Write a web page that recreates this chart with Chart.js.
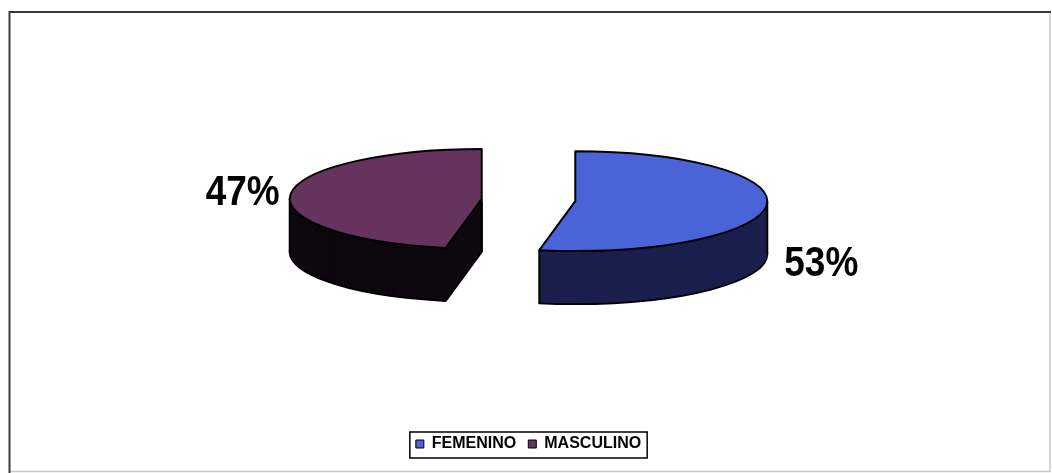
<!DOCTYPE html>
<html>
<head>
<meta charset="utf-8">
<script src="https://cdn.jsdelivr.net/npm/chart.js@4.4.1/dist/chart.umd.min.js"></script>
<style>
  html, body { margin: 0; padding: 0; background: #fff; }
  canvas { display: block; }
</style>
</head>
<body>
<canvas id="pieChart" width="1052" height="473"></canvas>
<script>
const categories = ['FEMENINO', 'MASCULINO'];
const percentages = [53, 47];

const faceColors = ['#4a64d8', '#66325e'];
const wallColors = ['#1a1f4e', '#0d080e'];

const FONT = '"Liberation Sans", Arial, sans-serif';
const TILT = 0.26;     // vertical squash of the pie top
const DEPTH = 53;      // wall thickness in px
const EXPLODE = 47;    // how far each slice is pulled out
const LIFT = 12;

// ellipse geometry of one slice, taken from the arc element chart.js laid out
function sliceGeom(arc) {
  const mid = (arc.startAngle + arc.endAngle) / 2;
  const rx = arc.outerRadius;
  return {
    cx: arc.x + Math.cos(mid) * EXPLODE,
    cy: arc.y - LIFT + Math.sin(mid) * EXPLODE * TILT,
    rx: rx, ry: rx * TILT,
    start: arc.startAngle, end: arc.endAngle, mid: mid
  };
}

function slicePath(ctx, g, dy) {
  ctx.beginPath();
  ctx.moveTo(g.cx, g.cy + dy);
  ctx.ellipse(g.cx, g.cy + dy, g.rx, g.ry, 0, g.start, g.end);
  ctx.closePath();
}

// left/right-most points of the top face -> vertical edges of the wall
function sideEdges(g) {
  const pts = [[g.cx, g.cy]];
  for (let i = 0; i <= 180; i++) {
    const a = g.start + (g.end - g.start) * i / 180;
    pts.push([g.cx + Math.cos(a) * g.rx, g.cy + Math.sin(a) * g.ry]);
  }
  let lo = pts[0], hi = pts[0];
  pts.forEach(p => {
    if (p[0] < lo[0]) lo = p;
    if (p[0] > hi[0]) hi = p;
  });
  return [lo, hi];
}

const pageFrame = {
  id: 'pageFrame',
  beforeDraw(chart) {
    const ctx = chart.ctx;
    ctx.save();
    ctx.fillStyle = '#fff';
    ctx.fillRect(0, 0, chart.width, chart.height);
    ctx.lineWidth = 1.5;
    ctx.strokeStyle = '#c8c8c8';
    ctx.beginPath();
    ctx.moveTo(1050, 12); ctx.lineTo(1050, 471.5); ctx.lineTo(9.5, 471.5);
    ctx.stroke();
    ctx.strokeStyle = '#3a3a3a';
    ctx.lineWidth = 2;
    ctx.beginPath();
    ctx.moveTo(9.5, 473); ctx.lineTo(9.5, 12); ctx.lineTo(1051, 12);
    ctx.stroke();
    ctx.restore();
  }
};

const pie3d = {
  id: 'pie3d',
  beforeDatasetsDraw(chart) {
    const ctx = chart.ctx;
    const meta = chart.getDatasetMeta(0);
    meta.data.forEach((arc, i) => {
      const g = sliceGeom(arc);
      ctx.save();
      ctx.lineJoin = 'round';
      ctx.strokeStyle = '#000';
      ctx.lineWidth = 2;
      // bottom rim, then the wall stacked up to the top face
      slicePath(ctx, g, DEPTH);
      ctx.fillStyle = wallColors[i];
      ctx.fill();
      ctx.stroke();
      for (let k = DEPTH - 1; k > 0; k--) {
        slicePath(ctx, g, k);
        ctx.fill();
      }
      sideEdges(g).forEach(p => {
        ctx.beginPath();
        ctx.moveTo(p[0], p[1]);
        ctx.lineTo(p[0], p[1] + DEPTH);
        ctx.stroke();
      });
      slicePath(ctx, g, 0);
      ctx.fillStyle = arc.options.backgroundColor;
      ctx.fill();
      ctx.stroke();
      ctx.restore();
    });
    return false;
  }
};

// percentage labels beside each slice (afterDraw, since the dataset draw is cancelled above)
const sliceLabels = {
  id: 'sliceLabels',
  afterDraw(chart) {
    const ctx = chart.ctx;
    const meta = chart.getDatasetMeta(0);
    meta.data.forEach((arc, i) => {
      const g = sliceGeom(arc);
      const right = Math.cos(g.mid) > 0;
      const x = right ? g.cx + g.rx + 17 : g.cx - g.rx - 10;
      const y = right ? g.cy + g.ry + 25 : g.cy + 6;
      ctx.save();
      ctx.translate(x, y);
      ctx.scale(1, 1.15);
      ctx.font = 'bold 37px ' + FONT;
      ctx.fillStyle = '#000';
      ctx.textAlign = right ? 'left' : 'right';
      ctx.textBaseline = 'alphabetic';
      ctx.fillText(percentages[i] + '%', 0, 0);
      ctx.restore();
    });
  }
};

const legendFrame = {
  id: 'legendFrame',
  afterDraw(chart) {
    const boxes = chart.legend && chart.legend.legendHitBoxes;
    if (!boxes || !boxes.length) return;
    const left = Math.min(...boxes.map(b => b.left)) - 6;
    const right = Math.max(...boxes.map(b => b.left + b.width)) + 6;
    const top = boxes[0].top - 4;
    const bottom = boxes[0].top + boxes[0].height + 6;
    const ctx = chart.ctx;
    ctx.save();
    ctx.strokeStyle = '#000';
    ctx.lineWidth = 1.5;
    ctx.strokeRect(left, top, right - left, bottom - top);
    ctx.restore();
  }
};

new Chart(document.getElementById('pieChart'), {
  type: 'pie',
  data: {
    labels: categories,
    datasets: [{
      data: percentages,
      backgroundColor: faceColors,
      borderColor: '#000',
      borderWidth: 2,
      radius: 192
    }]
  },
  options: {
    responsive: false,
    animation: false,
    layout: { padding: { left: 5, top: 0, bottom: 11 } },
    plugins: {
      tooltip: { enabled: false },
      legend: {
        position: 'bottom',
        labels: {
          boxWidth: 8,
          boxHeight: 8,
          padding: 12,
          color: '#000',
          font: { family: FONT, size: 16, weight: 'bold' },
          generateLabels(chart) {
            const items = Chart.overrides.pie.plugins.legend.labels.generateLabels(chart);
            items.forEach(it => { it.strokeStyle = '#000'; it.lineWidth = 1; });
            return items;
          }
        }
      }
    }
  },
  plugins: [pageFrame, pie3d, sliceLabels, legendFrame]
});
</script>
</body>
</html>
